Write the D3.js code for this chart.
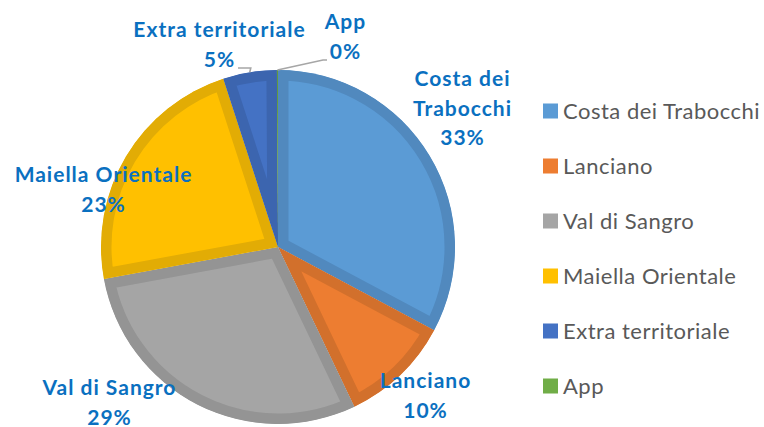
<!DOCTYPE html>
<html><head><meta charset="utf-8">
<script src="https://cdn.jsdelivr.net/npm/d3@7"></script>
<style>
html,body{margin:0;padding:0;background:#fff;}
svg{display:block;}
</style>
</head><body>
<svg id="chart" width="764" height="427"></svg>
<script>
const categories = ["Costa dei Trabocchi","Lanciano","Val di Sangro","Maiella Orientale","Extra territoriale","App"];
const values = [32.8, 10.1, 29.2, 22.9, 4.9, 0.1];
const fills = ["#5B9BD5","#ED7D31","#A5A5A5","#FFC000","#4472C4","#70AD47"];
const borders = ["#5189BE","#D2702C","#949494","#E2AC05","#3C65AF","#62983F"];

const W = 764, H = 427;
const cx = 278, cy = 247, R = 177;
const FONT = "Lato, 'Open Sans', sans-serif";

const svg = d3.select("#chart");
const total = d3.sum(values);
const pct = d3.format(".0%");

const pie = d3.pie().sort(null).value(d => d)(values);
const arc = d3.arc().innerRadius(0).outerRadius(R);

const g = svg.append("g").attr("transform", `translate(${cx},${cy})`);
const defs = svg.append("defs");

pie.forEach((p, i) => {
  defs.append("clipPath").attr("id", "clip" + i)
    .append("path").attr("d", arc(p));
  g.append("path")
    .attr("d", arc(p))
    .attr("fill", fills[i])
    .attr("stroke", borders[i])
    .attr("stroke-width", 21)
    .attr("stroke-linejoin", "miter")
    .attr("clip-path", `url(#clip${i})`);
});

// label layout (positions are layout, not data)
const labelLayout = [
  {lines:["Costa dei","Trabocchi"], x:462, y:86},
  {lines:["Lanciano"], x:425, y:388},
  {lines:["Val di Sangro"], x:109, y:395},
  {lines:["Maiella Orientale"], x:103, y:182},
  {lines:["Extra territoriale"], x:219, y:37},
  {lines:["App"], x:345, y:29}
];
const LH = 29.5;

// leader lines
const leaderColor = "#A6A6A6";
function leaderFor(pts) {
  svg.append("polyline")
    .attr("points", pts.map(p => p.join(",")).join(" "))
    .attr("fill", "none").attr("stroke", leaderColor).attr("stroke-width", 1.6);
}
{
  const p = pie[4];
  const a = (p.startAngle + p.endAngle) / 2;
  const ox = cx + R * Math.sin(a), oy = cy - R * Math.cos(a);
  leaderFor([[ox, oy], [ox + 1, 68], [238, 68]]);
}
{
  const p = pie[5];
  const a = (p.startAngle + p.endAngle) / 2;
  const ox = cx + R * Math.sin(a), oy = cy - R * Math.cos(a);
  leaderFor([[ox, oy], [323, 60], [327, 60]]);
}

labelLayout.forEach((L, i) => {
  const t = svg.append("text")
    .attr("text-anchor", "middle")
    .attr("font-family", FONT)
    .attr("font-weight", "bold")
    .attr("font-size", 21)
    .attr("letter-spacing", 1.0)
    .attr("fill", "#0A70C0");
  const lines = L.lines.concat([pct(values[i] / total)]);
  lines.forEach((s, k) => {
    t.append("tspan").attr("x", L.x + 0.5).attr("y", L.y + k * LH).text(s);
  });
});

// legend
const lg = svg.append("g").attr("font-family", FONT);
const legendY = d3.scalePoint().domain(categories).range([111, 386]);
categories.forEach((c, i) => {
  const y = legendY(c);
  lg.append("rect").attr("x", 543).attr("y", y - 7.5).attr("width", 15).attr("height", 15).attr("fill", fills[i]);
  lg.append("text").attr("x", 563).attr("y", y + 7.5).attr("font-size", 22)
    .attr("letter-spacing", 0.5)
    .attr("fill", "#595959").text(c);
});
</script>
</body></html>
